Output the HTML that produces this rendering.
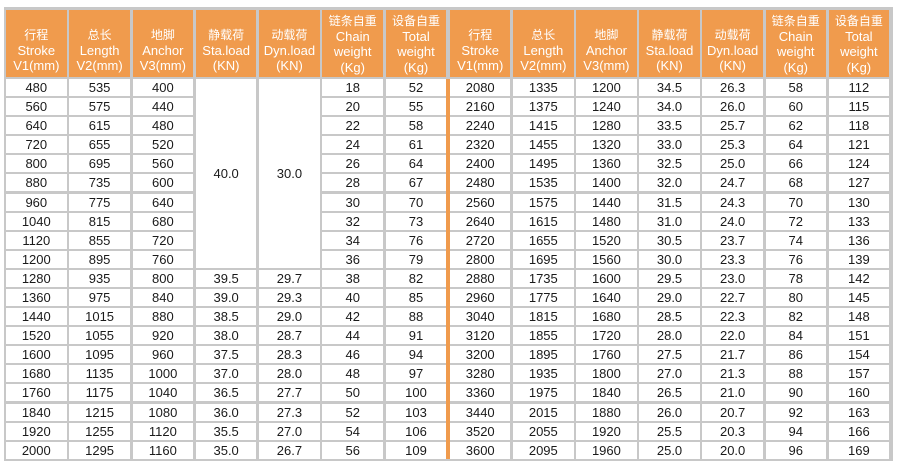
<!DOCTYPE html>
<html>
<head>
<meta charset="utf-8">
<style>
  html,body{margin:0;padding:0;background:#fff;}
  body{width:900px;height:466px;position:relative;overflow:hidden;font-family:"Liberation Sans","Noto Sans CJK SC",sans-serif;}
  .bg{position:absolute;left:4px;top:7px;width:889px;height:454px;background:#c8c8c8;}
  .strip{position:absolute;left:446.4px;top:79px;width:3.6px;height:379.9px;background:#f09b4d;}
  .grid{position:absolute;top:9.5px;display:grid;grid-template-rows:67.4px repeat(20,17px);row-gap:2.1px;}
  .L{left:6px;grid-template-columns:repeat(7,60.6px);column-gap:2.7px;}
  .R{left:450px;grid-template-columns:repeat(7,60.4px);column-gap:2.73px;}
  .grid > div{background:#fff;display:flex;align-items:center;justify-content:center;font-size:13px;color:#1a1a1a;}
  .grid > div.h{background:#f09b4d;color:#fff;display:block;text-align:center;line-height:15.7px;font-size:13px;padding-top:3.5px;box-sizing:border-box;white-space:nowrap;}
  .grid > div.h3{padding-top:17.3px;}
  .cn{font-family:"Noto Sans CJK SC","WenQuanYi Zen Hei",sans-serif;font-size:12px;}
  .m{grid-row:span 10;}
</style>
</head>
<body>
<div class="bg"></div>
<div class="strip"></div>

<div class="grid L">
  <div class="h h3"><span class="cn">行程</span><br>Stroke<br>V1(mm)</div>
  <div class="h h3"><span class="cn">总长</span><br>Length<br>V2(mm)</div>
  <div class="h h3"><span class="cn">地脚</span><br>Anchor<br>V3(mm)</div>
  <div class="h h3"><span class="cn">静载荷</span><br>Sta.load<br>(KN)</div>
  <div class="h h3"><span class="cn">动载荷</span><br>Dyn.load<br>(KN)</div>
  <div class="h"><span class="cn">链条自重</span><br>Chain<br>weight<br>(Kg)</div>
  <div class="h"><span class="cn">设备自重</span><br>Total<br>weight<br>(Kg)</div>

  <div>480</div><div>535</div><div>400</div><div class="m">40.0</div><div class="m">30.0</div><div>18</div><div>52</div>
  <div>560</div><div>575</div><div>440</div><div>20</div><div>55</div>
  <div>640</div><div>615</div><div>480</div><div>22</div><div>58</div>
  <div>720</div><div>655</div><div>520</div><div>24</div><div>61</div>
  <div>800</div><div>695</div><div>560</div><div>26</div><div>64</div>
  <div>880</div><div>735</div><div>600</div><div>28</div><div>67</div>
  <div>960</div><div>775</div><div>640</div><div>30</div><div>70</div>
  <div>1040</div><div>815</div><div>680</div><div>32</div><div>73</div>
  <div>1120</div><div>855</div><div>720</div><div>34</div><div>76</div>
  <div>1200</div><div>895</div><div>760</div><div>36</div><div>79</div>
  <div>1280</div><div>935</div><div>800</div><div>39.5</div><div>29.7</div><div>38</div><div>82</div>
  <div>1360</div><div>975</div><div>840</div><div>39.0</div><div>29.3</div><div>40</div><div>85</div>
  <div>1440</div><div>1015</div><div>880</div><div>38.5</div><div>29.0</div><div>42</div><div>88</div>
  <div>1520</div><div>1055</div><div>920</div><div>38.0</div><div>28.7</div><div>44</div><div>91</div>
  <div>1600</div><div>1095</div><div>960</div><div>37.5</div><div>28.3</div><div>46</div><div>94</div>
  <div>1680</div><div>1135</div><div>1000</div><div>37.0</div><div>28.0</div><div>48</div><div>97</div>
  <div>1760</div><div>1175</div><div>1040</div><div>36.5</div><div>27.7</div><div>50</div><div>100</div>
  <div>1840</div><div>1215</div><div>1080</div><div>36.0</div><div>27.3</div><div>52</div><div>103</div>
  <div>1920</div><div>1255</div><div>1120</div><div>35.5</div><div>27.0</div><div>54</div><div>106</div>
  <div>2000</div><div>1295</div><div>1160</div><div>35.0</div><div>26.7</div><div>56</div><div>109</div>
</div>

<div class="grid R">
  <div class="h h3"><span class="cn">行程</span><br>Stroke<br>V1(mm)</div>
  <div class="h h3"><span class="cn">总长</span><br>Length<br>V2(mm)</div>
  <div class="h h3"><span class="cn">地脚</span><br>Anchor<br>V3(mm)</div>
  <div class="h h3"><span class="cn">静载荷</span><br>Sta.load<br>(KN)</div>
  <div class="h h3"><span class="cn">动载荷</span><br>Dyn.load<br>(KN)</div>
  <div class="h"><span class="cn">链条自重</span><br>Chain<br>weight<br>(Kg)</div>
  <div class="h"><span class="cn">设备自重</span><br>Total<br>weight<br>(Kg)</div>

  <div>2080</div><div>1335</div><div>1200</div><div>34.5</div><div>26.3</div><div>58</div><div>112</div>
  <div>2160</div><div>1375</div><div>1240</div><div>34.0</div><div>26.0</div><div>60</div><div>115</div>
  <div>2240</div><div>1415</div><div>1280</div><div>33.5</div><div>25.7</div><div>62</div><div>118</div>
  <div>2320</div><div>1455</div><div>1320</div><div>33.0</div><div>25.3</div><div>64</div><div>121</div>
  <div>2400</div><div>1495</div><div>1360</div><div>32.5</div><div>25.0</div><div>66</div><div>124</div>
  <div>2480</div><div>1535</div><div>1400</div><div>32.0</div><div>24.7</div><div>68</div><div>127</div>
  <div>2560</div><div>1575</div><div>1440</div><div>31.5</div><div>24.3</div><div>70</div><div>130</div>
  <div>2640</div><div>1615</div><div>1480</div><div>31.0</div><div>24.0</div><div>72</div><div>133</div>
  <div>2720</div><div>1655</div><div>1520</div><div>30.5</div><div>23.7</div><div>74</div><div>136</div>
  <div>2800</div><div>1695</div><div>1560</div><div>30.0</div><div>23.3</div><div>76</div><div>139</div>
  <div>2880</div><div>1735</div><div>1600</div><div>29.5</div><div>23.0</div><div>78</div><div>142</div>
  <div>2960</div><div>1775</div><div>1640</div><div>29.0</div><div>22.7</div><div>80</div><div>145</div>
  <div>3040</div><div>1815</div><div>1680</div><div>28.5</div><div>22.3</div><div>82</div><div>148</div>
  <div>3120</div><div>1855</div><div>1720</div><div>28.0</div><div>22.0</div><div>84</div><div>151</div>
  <div>3200</div><div>1895</div><div>1760</div><div>27.5</div><div>21.7</div><div>86</div><div>154</div>
  <div>3280</div><div>1935</div><div>1800</div><div>27.0</div><div>21.3</div><div>88</div><div>157</div>
  <div>3360</div><div>1975</div><div>1840</div><div>26.5</div><div>21.0</div><div>90</div><div>160</div>
  <div>3440</div><div>2015</div><div>1880</div><div>26.0</div><div>20.7</div><div>92</div><div>163</div>
  <div>3520</div><div>2055</div><div>1920</div><div>25.5</div><div>20.3</div><div>94</div><div>166</div>
  <div>3600</div><div>2095</div><div>1960</div><div>25.0</div><div>20.0</div><div>96</div><div>169</div>
</div>
</body>
</html>
